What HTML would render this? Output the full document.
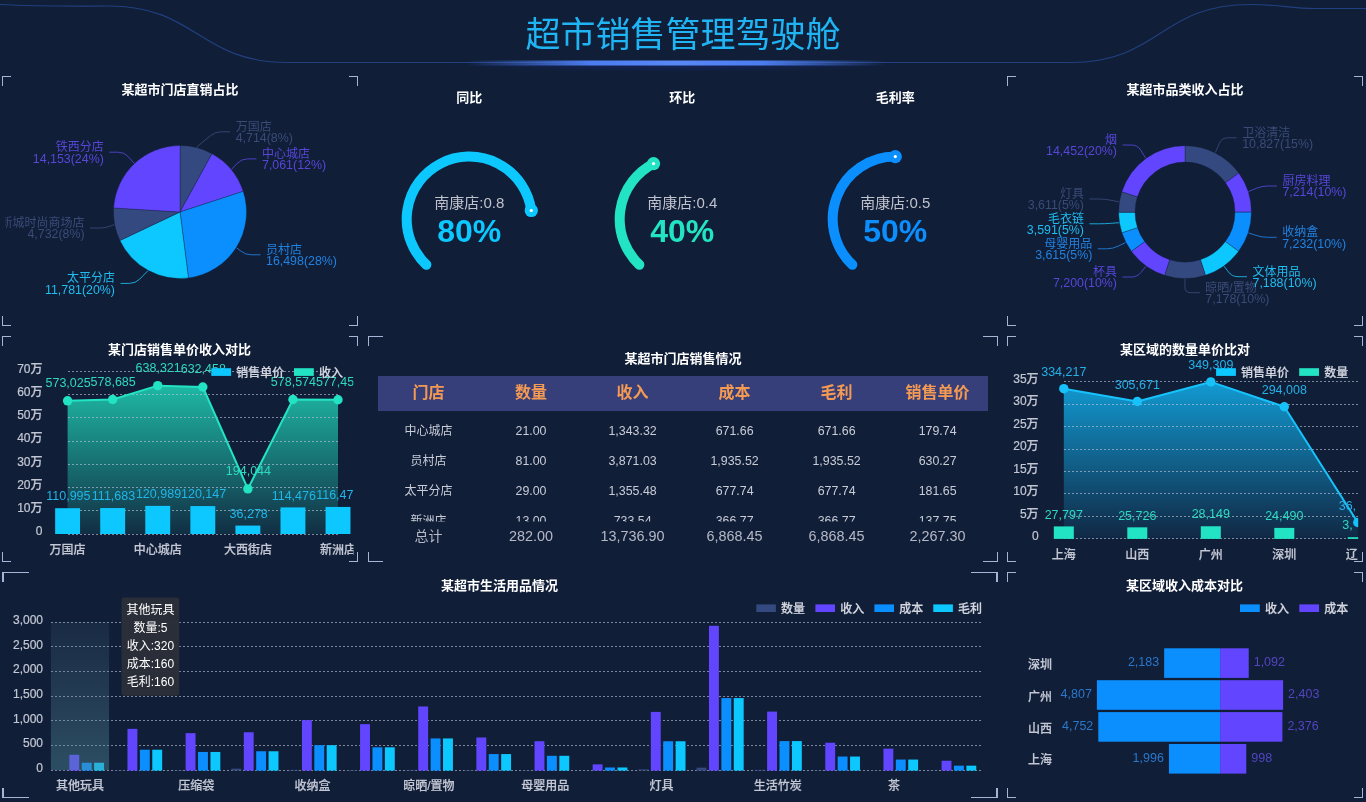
<!DOCTYPE html>
<html lang="zh-CN"><head><meta charset="utf-8"><title>超市销售管理驾驶舱</title><style>html,body{margin:0;padding:0;background:#101e38;overflow:hidden}svg{display:block}</style></head><body>
<svg width="1366" height="802" viewBox="0 0 1366 802" font-family='"Liberation Sans","Noto Sans CJK SC",sans-serif'>
<rect width="1366" height="802" fill="#101e38"/>
<defs><linearGradient id="hg" x1="0" x2="1" y1="0" y2="0"><stop offset="0" stop-color="#4a7df0" stop-opacity="0"/><stop offset="0.3" stop-color="#4c7df0" stop-opacity="1"/><stop offset="0.5" stop-color="#5888f6" stop-opacity="1"/><stop offset="0.7" stop-color="#4c7df0" stop-opacity="1"/><stop offset="1" stop-color="#4a7df0" stop-opacity="0"/></linearGradient><radialGradient id="hg2" cx="0.5" cy="0" r="0.5" gradientTransform="matrix(1 0 0 2 0 0)"><stop offset="0" stop-color="#1a2a8a" stop-opacity="0.9"/><stop offset="1" stop-color="#1a2a8a" stop-opacity="0"/></radialGradient></defs>
<path d="M0 4.5 C40 6.5 70 6 108 6 C198 6 198 62.5 288 62.5 L1070 62.5 C1160 62.5 1160 4.5 1250 4.5 C1280 4.5 1290 8.5 1315 8.5 L1366 8.5" fill="none" stroke="#22407f" stroke-width="1.2"/>
<rect x="440" y="64" width="470" height="8" fill="url(#hg2)" opacity="0.55"/>
<rect x="466" y="60.5" width="420" height="5" fill="url(#hg)"/>
<text x="683.0" y="46.5" font-size="35" fill="#1fb4f3" text-anchor="middle">超市销售管理驾驶舱</text>
<g fill="#aab3d6"><rect x="2" y="76" width="9" height="1"/><rect x="2" y="325" width="9" height="1"/><rect x="349" y="76" width="9" height="1"/><rect x="349" y="325" width="9" height="1"/><rect x="2" y="76" width="1" height="10"/><rect x="357" y="76" width="1" height="10"/><rect x="2" y="316" width="1" height="10"/><rect x="357" y="316" width="1" height="10"/></g>
<g fill="#aab3d6"><rect x="1007" y="76" width="9" height="1"/><rect x="1007" y="325" width="9" height="1"/><rect x="1354" y="76" width="9" height="1"/><rect x="1354" y="325" width="9" height="1"/><rect x="1007" y="76" width="1" height="10"/><rect x="1362" y="76" width="1" height="10"/><rect x="1007" y="316" width="1" height="10"/><rect x="1362" y="316" width="1" height="10"/></g>
<g fill="#aab3d6"><rect x="2" y="336" width="9" height="1"/><rect x="2" y="561" width="9" height="1"/><rect x="349" y="336" width="9" height="1"/><rect x="349" y="561" width="9" height="1"/><rect x="2" y="336" width="1" height="10"/><rect x="357" y="336" width="1" height="10"/><rect x="2" y="552" width="1" height="10"/><rect x="357" y="552" width="1" height="10"/></g>
<g fill="#aab3d6"><rect x="368" y="336" width="15" height="1"/><rect x="368" y="561" width="15" height="1"/><rect x="983" y="336" width="15" height="1"/><rect x="983" y="561" width="15" height="1"/><rect x="368" y="336" width="1" height="10"/><rect x="997" y="336" width="1" height="10"/><rect x="368" y="552" width="1" height="10"/><rect x="997" y="552" width="1" height="10"/></g>
<g fill="#aab3d6"><rect x="1007" y="336" width="9" height="1"/><rect x="1007" y="561" width="9" height="1"/><rect x="1354" y="336" width="9" height="1"/><rect x="1354" y="561" width="9" height="1"/><rect x="1007" y="336" width="1" height="10"/><rect x="1362" y="336" width="1" height="10"/><rect x="1007" y="552" width="1" height="10"/><rect x="1362" y="552" width="1" height="10"/></g>
<g fill="#aab3d6"><rect x="2" y="572" width="27" height="1"/><rect x="2" y="797" width="27" height="1"/><rect x="971" y="572" width="27" height="1"/><rect x="971" y="797" width="27" height="1"/><rect x="2" y="572" width="2" height="10"/><rect x="996" y="572" width="2" height="10"/><rect x="2" y="788" width="2" height="10"/><rect x="996" y="788" width="2" height="10"/></g>
<g fill="#aab3d6"><rect x="1007" y="572" width="9" height="1"/><rect x="1007" y="797" width="9" height="1"/><rect x="1354" y="572" width="9" height="1"/><rect x="1354" y="797" width="9" height="1"/><rect x="1007" y="572" width="1" height="10"/><rect x="1362" y="572" width="1" height="10"/><rect x="1007" y="788" width="1" height="10"/><rect x="1362" y="788" width="1" height="10"/></g>
<text x="180.0" y="94.1" font-size="13" fill="#ffffff" text-anchor="middle" font-weight="bold">某超市门店直销占比</text>
<defs><clipPath id="c1"><rect x="5.5" y="76" width="348" height="250"/></clipPath><clipPath id="c3"><rect x="1010" y="76" width="349" height="250"/></clipPath></defs>
<path d="M180 212 L180 145.5 A66.5 66.5 0 0 1 212.03 153.72 Z" fill="#34497f" stroke="#101e38" stroke-width="0.35"/>
<path d="M180 212 L212.03 153.72 A66.5 66.5 0 0 1 243.22 191.36 Z" fill="#6246ff" stroke="#101e38" stroke-width="0.35"/>
<path d="M180 212 L243.22 191.36 A66.5 66.5 0 0 1 188.46 277.96 Z" fill="#0b8fff" stroke="#101e38" stroke-width="0.35"/>
<path d="M180 212 L188.46 277.96 A66.5 66.5 0 0 1 119.9 240.47 Z" fill="#0dc8ff" stroke="#101e38" stroke-width="0.35"/>
<path d="M180 212 L119.9 240.47 A66.5 66.5 0 0 1 113.63 207.88 Z" fill="#34497f" stroke="#101e38" stroke-width="0.35"/>
<path d="M180 212 L113.63 207.88 A66.5 66.5 0 0 1 180 145.5 Z" fill="#6246ff" stroke="#101e38" stroke-width="0.35"/>
<g clip-path="url(#c1)">
<path d="M134.12 163.18 L128.3 156.67 Q124.3 152.2 118.3 152.2 L109.3 152.2" fill="none" stroke="#5746d8" stroke-width="1" stroke-opacity="0.85"/>
<text x="103.8" y="151.1" font-size="12" fill="#5746d8" text-anchor="end">铁西分店</text>
<text x="103.8" y="162.6" font-size="12.4" fill="#5746d8" text-anchor="end">14,153(24%)</text>
<path d="M114.21 224.67 L109.65 226.33 Q105.1 228 100.25 228 L90.1 228" fill="none" stroke="#3a4b78" stroke-width="1" stroke-opacity="0.85"/>
<text x="84.6" y="226.9" font-size="12" fill="#3a4b78" text-anchor="end">新城时尚商场店</text>
<text x="84.6" y="238.4" font-size="12.4" fill="#3a4b78" text-anchor="end">4,732(8%)</text>
<path d="M147.85 270.79 L139.7 279.11 Q135.5 283.4 129.5 283.4 L120.5 283.4" fill="none" stroke="#20bdf0" stroke-width="1" stroke-opacity="0.85"/>
<text x="115.0" y="282.3" font-size="12" fill="#20bdf0" text-anchor="end">太平分店</text>
<text x="115.0" y="293.8" font-size="12.4" fill="#20bdf0" text-anchor="end">11,781(20%)</text>
<path d="M236.63 247.81 L241.06 251.3 Q245.5 254.8 251.15 254.8 L260.5 254.8" fill="none" stroke="#2182e0" stroke-width="1" stroke-opacity="0.85"/>
<text x="266.0" y="253.7" font-size="12" fill="#2182e0">员村店</text>
<text x="266.0" y="265.2" font-size="12.4" fill="#2182e0">16,498(28%)</text>
<path d="M231.59 169.25 L237.35 163.24 Q241.5 158.9 247.5 158.9 L256.5 158.9" fill="none" stroke="#5746d8" stroke-width="1" stroke-opacity="0.85"/>
<text x="262.0" y="157.8" font-size="12" fill="#5746d8">中心城店</text>
<text x="262.0" y="169.3" font-size="12.4" fill="#5746d8">7,061(12%)</text>
<path d="M196.66 147.1 L210.57 135.62 Q215.2 131.8 221.2 131.8 L230.2 131.8" fill="none" stroke="#3a4b78" stroke-width="1" stroke-opacity="0.85"/>
<text x="235.7" y="130.7" font-size="12" fill="#3a4b78">万国店</text>
<text x="235.7" y="142.2" font-size="12.4" fill="#3a4b78">4,714(8%)</text>
</g>
<text x="469.3" y="102.2" font-size="13" fill="#ffffff" text-anchor="middle" font-weight="bold">同比</text>
<path d="M426.37 264.76 A62.6 62.6 0 1 1 531.29 210.51" fill="none" stroke="#0dc8ff" stroke-width="10" stroke-linecap="round"/>
<circle cx="531.29" cy="210.51" r="6.6" fill="#0dc8ff"/>
<circle cx="531.29" cy="210.51" r="1.6" fill="#ffffff"/>
<text x="469.3" y="208.0" font-size="15" fill="#bfc2cc" text-anchor="middle">南康店:0.8</text>
<text x="469.3" y="242.3" font-size="32" fill="#0dc8ff" text-anchor="middle" font-weight="bold">80%</text>
<text x="682.3" y="102.2" font-size="13" fill="#ffffff" text-anchor="middle" font-weight="bold">环比</text>
<path d="M639.37 264.76 A62.6 62.6 0 0 1 653.55 163.59" fill="none" stroke="#22e4c4" stroke-width="10" stroke-linecap="round"/>
<circle cx="653.55" cy="163.59" r="6.6" fill="#22e4c4"/>
<circle cx="653.55" cy="163.59" r="1.6" fill="#ffffff"/>
<text x="682.3" y="208.0" font-size="15" fill="#bfc2cc" text-anchor="middle">南康店:0.4</text>
<text x="682.3" y="242.3" font-size="32" fill="#22e4c4" text-anchor="middle" font-weight="bold">40%</text>
<text x="895.3" y="102.2" font-size="13" fill="#ffffff" text-anchor="middle" font-weight="bold">毛利率</text>
<path d="M852.37 264.76 A62.6 62.6 0 0 1 895.3 156.6" fill="none" stroke="#0b8fff" stroke-width="10" stroke-linecap="round"/>
<circle cx="895.3" cy="156.6" r="6.6" fill="#0b8fff"/>
<circle cx="895.3" cy="156.6" r="1.6" fill="#ffffff"/>
<text x="895.3" y="208.0" font-size="15" fill="#bfc2cc" text-anchor="middle">南康店:0.5</text>
<text x="895.3" y="242.3" font-size="32" fill="#0b8fff" text-anchor="middle" font-weight="bold">50%</text>
<text x="1185.0" y="94.1" font-size="13" fill="#ffffff" text-anchor="middle" font-weight="bold">某超市品类收入占比</text>
<path d="M1185 145.7 A66.4 66.4 0 0 1 1238.76 173.12 L1225.48 182.75 A50 50 0 0 0 1185 162.1 Z" fill="#34497f" stroke="#101e38" stroke-width="0.35"/>
<path d="M1238.76 173.12 A66.4 66.4 0 0 1 1251.4 212.18 L1235 212.16 A50 50 0 0 0 1225.48 182.75 Z" fill="#6246ff" stroke="#101e38" stroke-width="0.35"/>
<path d="M1251.4 212.18 A66.4 66.4 0 0 1 1238.6 251.29 L1225.36 241.61 A50 50 0 0 0 1235 212.16 Z" fill="#0b8fff" stroke="#101e38" stroke-width="0.35"/>
<path d="M1238.6 251.29 A66.4 66.4 0 0 1 1205.45 275.27 L1200.4 259.67 A50 50 0 0 0 1225.36 241.61 Z" fill="#0dc8ff" stroke="#101e38" stroke-width="0.35"/>
<path d="M1205.45 275.27 A66.4 66.4 0 0 1 1164.59 275.29 L1169.63 259.68 A50 50 0 0 0 1200.4 259.67 Z" fill="#34497f" stroke="#101e38" stroke-width="0.35"/>
<path d="M1164.59 275.29 A66.4 66.4 0 0 1 1131.39 251.27 L1144.63 241.6 A50 50 0 0 0 1169.63 259.68 Z" fill="#6246ff" stroke="#101e38" stroke-width="0.35"/>
<path d="M1131.39 251.27 A66.4 66.4 0 0 1 1121.89 232.74 L1137.48 227.64 A50 50 0 0 0 1144.63 241.6 Z" fill="#0b8fff" stroke="#101e38" stroke-width="0.35"/>
<path d="M1121.89 232.74 A66.4 66.4 0 0 1 1118.6 212.31 L1135 212.26 A50 50 0 0 0 1137.48 227.64 Z" fill="#0dc8ff" stroke="#101e38" stroke-width="0.35"/>
<path d="M1118.6 212.31 A66.4 66.4 0 0 1 1121.8 191.75 L1137.41 196.78 A50 50 0 0 0 1135 212.26 Z" fill="#34497f" stroke="#101e38" stroke-width="0.35"/>
<path d="M1121.8 191.75 A66.4 66.4 0 0 1 1185 145.7 L1185 162.1 A50 50 0 0 0 1137.41 196.78 Z" fill="#6246ff" stroke="#101e38" stroke-width="0.35"/>
<g clip-path="url(#c3)">
<path d="M1145.61 158.03 L1140.67 150.09 Q1137.5 145 1131.5 145 L1122.5 145" fill="none" stroke="#5746d8" stroke-width="1" stroke-opacity="0.85"/>
<text x="1117.0" y="143.9" font-size="12" fill="#5746d8" text-anchor="end">烟</text>
<text x="1117.0" y="155.4" font-size="12.4" fill="#5746d8" text-anchor="end">14,452(20%)</text>
<path d="M1118.89 201.83 L1110.39 200.16 Q1104.5 199 1098.5 199 L1089.5 199" fill="none" stroke="#3a4b78" stroke-width="1" stroke-opacity="0.85"/>
<text x="1084.0" y="197.9" font-size="12" fill="#3a4b78" text-anchor="end">灯具</text>
<text x="1084.0" y="209.4" font-size="12.4" fill="#3a4b78" text-anchor="end">3,611(5%)</text>
<path d="M1118.95 222.73 L1110.48 223.36 Q1104.5 223.8 1098.5 223.8 L1089.5 223.8" fill="none" stroke="#20bdf0" stroke-width="1" stroke-opacity="0.85"/>
<text x="1084.0" y="222.7" font-size="12" fill="#20bdf0" text-anchor="end">毛衣链</text>
<text x="1084.0" y="234.2" font-size="12.4" fill="#20bdf0" text-anchor="end">3,591(5%)</text>
<path d="M1125.46 242.61 L1118.19 246.16 Q1112.8 248.8 1106.8 248.8 L1097.8 248.8" fill="none" stroke="#2182e0" stroke-width="1" stroke-opacity="0.85"/>
<text x="1092.3" y="247.7" font-size="12" fill="#2182e0" text-anchor="end">母婴用品</text>
<text x="1092.3" y="259.2" font-size="12.4" fill="#2182e0" text-anchor="end">3,615(5%)</text>
<path d="M1145.8 266.31 L1141.18 272.26 Q1137.5 277 1131.5 277 L1122.5 277" fill="none" stroke="#5746d8" stroke-width="1" stroke-opacity="0.85"/>
<text x="1117.0" y="275.9" font-size="12" fill="#5746d8" text-anchor="end">杯具</text>
<text x="1117.0" y="287.4" font-size="12.4" fill="#5746d8" text-anchor="end">7,200(10%)</text>
<path d="M1185.02 279 L1184.9 286.7 Q1184.8 292.7 1190.8 292.7 L1199.8 292.7" fill="none" stroke="#3a4b78" stroke-width="1" stroke-opacity="0.85"/>
<text x="1205.3" y="291.6" font-size="12" fill="#3a4b78">晾晒/置物</text>
<text x="1205.3" y="303.1" font-size="12.4" fill="#3a4b78">7,178(10%)</text>
<path d="M1224.21 266.3 L1228.4 271.9 Q1232 276.7 1238 276.7 L1247 276.7" fill="none" stroke="#20bdf0" stroke-width="1" stroke-opacity="0.85"/>
<text x="1252.5" y="275.6" font-size="12" fill="#20bdf0">文体用品</text>
<text x="1252.5" y="287.1" font-size="12.4" fill="#20bdf0">7,188(10%)</text>
<path d="M1248.58 232.91 L1256.01 235.4 Q1261.7 237.3 1267.7 237.3 L1276.7 237.3" fill="none" stroke="#2182e0" stroke-width="1" stroke-opacity="0.85"/>
<text x="1282.2" y="236.2" font-size="12" fill="#2182e0">收纳盒</text>
<text x="1282.2" y="247.8" font-size="12.4" fill="#2182e0">7,232(10%)</text>
<path d="M1248.65 191.5 L1256.36 188.3 Q1261.9 186 1267.9 186 L1276.9 186" fill="none" stroke="#5746d8" stroke-width="1" stroke-opacity="0.85"/>
<text x="1282.4" y="184.9" font-size="12" fill="#5746d8">厨房料理</text>
<text x="1282.4" y="196.4" font-size="12.4" fill="#5746d8">7,214(10%)</text>
<path d="M1215.4 152.51 L1219.34 143.32 Q1221.7 137.8 1227.7 137.8 L1236.7 137.8" fill="none" stroke="#3a4b78" stroke-width="1" stroke-opacity="0.85"/>
<text x="1242.2" y="136.7" font-size="12" fill="#3a4b78">卫浴清洁</text>
<text x="1242.2" y="148.2" font-size="12.4" fill="#3a4b78">10,827(15%)</text>
</g>
<text x="179.6" y="354.1" font-size="13" fill="#ffffff" text-anchor="middle" font-weight="bold">某门店销售单价收入对比</text>
<defs><linearGradient id="ga" x1="0" x2="0" y1="0" y2="1"><stop offset="0" stop-color="#22e4c4" stop-opacity="0.78"/><stop offset="1" stop-color="#22e4c4" stop-opacity="0.08"/></linearGradient><clipPath id="c4"><rect x="0" y="336" width="353.5" height="226"/></clipPath></defs>
<g clip-path="url(#c4)">
<text x="42.5" y="535.4" font-size="12" fill="#c3c7d4" text-anchor="end" font-weight="500" stroke="#c3c7d4" stroke-width="0.2">0</text>
<text x="42.5" y="512.2" font-size="12" fill="#c3c7d4" text-anchor="end" font-weight="500" stroke="#c3c7d4" stroke-width="0.2">10万</text>
<text x="42.5" y="488.9" font-size="12" fill="#c3c7d4" text-anchor="end" font-weight="500" stroke="#c3c7d4" stroke-width="0.2">20万</text>
<text x="42.5" y="465.7" font-size="12" fill="#c3c7d4" text-anchor="end" font-weight="500" stroke="#c3c7d4" stroke-width="0.2">30万</text>
<text x="42.5" y="442.4" font-size="12" fill="#c3c7d4" text-anchor="end" font-weight="500" stroke="#c3c7d4" stroke-width="0.2">40万</text>
<text x="42.5" y="419.2" font-size="12" fill="#c3c7d4" text-anchor="end" font-weight="500" stroke="#c3c7d4" stroke-width="0.2">50万</text>
<text x="42.5" y="395.9" font-size="12" fill="#c3c7d4" text-anchor="end" font-weight="500" stroke="#c3c7d4" stroke-width="0.2">60万</text>
<text x="42.5" y="372.7" font-size="12" fill="#c3c7d4" text-anchor="end" font-weight="500" stroke="#c3c7d4" stroke-width="0.2">70万</text>
<polygon points="67.6,534 67.6,400.81 112.67,399.5 157.74,385.64 202.81,387 247.88,488.9 292.95,399.52 338.02,399.78 338.02,534" fill="url(#ga)"/>
<line x1="67.6" x2="338.02" y1="534.5" y2="534.5" stroke="#c0c7dc" stroke-width="1" stroke-dasharray="2 2" opacity="0.62" shape-rendering="crispEdges"/>
<line x1="67.6" x2="338.02" y1="510.5" y2="510.5" stroke="#c0c7dc" stroke-width="1" stroke-dasharray="2 2" opacity="0.62" shape-rendering="crispEdges"/>
<line x1="67.6" x2="338.02" y1="487.5" y2="487.5" stroke="#c0c7dc" stroke-width="1" stroke-dasharray="2 2" opacity="0.62" shape-rendering="crispEdges"/>
<line x1="67.6" x2="338.02" y1="464.5" y2="464.5" stroke="#c0c7dc" stroke-width="1" stroke-dasharray="2 2" opacity="0.62" shape-rendering="crispEdges"/>
<line x1="67.6" x2="338.02" y1="441.5" y2="441.5" stroke="#c0c7dc" stroke-width="1" stroke-dasharray="2 2" opacity="0.62" shape-rendering="crispEdges"/>
<line x1="67.6" x2="338.02" y1="417.5" y2="417.5" stroke="#c0c7dc" stroke-width="1" stroke-dasharray="2 2" opacity="0.62" shape-rendering="crispEdges"/>
<line x1="67.6" x2="338.02" y1="394.5" y2="394.5" stroke="#c0c7dc" stroke-width="1" stroke-dasharray="2 2" opacity="0.62" shape-rendering="crispEdges"/>
<line x1="67.6" x2="338.02" y1="371.5" y2="371.5" stroke="#c0c7dc" stroke-width="1" stroke-dasharray="2 2" opacity="0.62" shape-rendering="crispEdges"/>
<rect x="55.15" y="508.2" width="24.9" height="25.8" fill="#0dc8ff"/>
<rect x="100.22" y="508.04" width="24.9" height="25.96" fill="#0dc8ff"/>
<rect x="145.29" y="505.88" width="24.9" height="28.12" fill="#0dc8ff"/>
<rect x="190.36" y="506.07" width="24.9" height="27.93" fill="#0dc8ff"/>
<rect x="235.43" y="525.57" width="24.9" height="8.43" fill="#0dc8ff"/>
<rect x="280.5" y="507.39" width="24.9" height="26.61" fill="#0dc8ff"/>
<rect x="325.57" y="506.93" width="24.9" height="27.07" fill="#0dc8ff"/>
<polyline points="67.6,400.81 112.67,399.5 157.74,385.64 202.81,387 247.88,488.9 292.95,399.52 338.02,399.78" fill="none" stroke="#22e4c4" stroke-width="2" stroke-linejoin="round"/>
<circle cx="67.6" cy="400.81" r="4.7" fill="#22e4c4"/>
<circle cx="112.67" cy="399.5" r="4.7" fill="#22e4c4"/>
<circle cx="157.74" cy="385.64" r="4.7" fill="#22e4c4"/>
<circle cx="202.81" cy="387" r="4.7" fill="#22e4c4"/>
<circle cx="247.88" cy="488.9" r="4.7" fill="#22e4c4"/>
<circle cx="292.95" cy="399.52" r="4.7" fill="#22e4c4"/>
<circle cx="338.02" cy="399.78" r="4.7" fill="#22e4c4"/>
<text x="68.4" y="500.4" font-size="12.5" fill="#1fb6ea" text-anchor="middle">110,995</text>
<text x="113.5" y="500.2" font-size="12.5" fill="#1fb6ea" text-anchor="middle">111,683</text>
<text x="158.5" y="498.0" font-size="12.5" fill="#1fb6ea" text-anchor="middle">120,989</text>
<text x="203.6" y="498.2" font-size="12.5" fill="#1fb6ea" text-anchor="middle">120,147</text>
<text x="248.7" y="517.7" font-size="12.5" fill="#1fb6ea" text-anchor="middle">36,278</text>
<text x="293.8" y="499.5" font-size="12.5" fill="#1fb6ea" text-anchor="middle">114,476</text>
<text x="316.2" y="499.1" font-size="12.5" fill="#1fb6ea">116,47</text>
<text x="68.1" y="387.1" font-size="12.5" fill="#2fd9bf" text-anchor="middle">573,025</text>
<text x="113.2" y="385.7" font-size="12.5" fill="#2fd9bf" text-anchor="middle">578,685</text>
<text x="158.2" y="371.9" font-size="12.5" fill="#2fd9bf" text-anchor="middle">638,321</text>
<text x="203.3" y="373.2" font-size="12.5" fill="#2fd9bf" text-anchor="middle">632,458</text>
<text x="248.4" y="475.1" font-size="12.5" fill="#2fd9bf" text-anchor="middle">194,044</text>
<text x="293.4" y="385.8" font-size="12.5" fill="#2fd9bf" text-anchor="middle">578,574</text>
<text x="315.9" y="386.0" font-size="12.5" fill="#2fd9bf">577,45</text>
<text x="67.6" y="553.7" font-size="12" fill="#c3c7d4" text-anchor="middle" font-weight="500" stroke="#c3c7d4" stroke-width="0.2">万国店</text>
<text x="157.7" y="553.7" font-size="12" fill="#c3c7d4" text-anchor="middle" font-weight="500" stroke="#c3c7d4" stroke-width="0.2">中心城店</text>
<text x="247.9" y="553.7" font-size="12" fill="#c3c7d4" text-anchor="middle" font-weight="500" stroke="#c3c7d4" stroke-width="0.2">大西街店</text>
<text x="338.0" y="553.7" font-size="12" fill="#c3c7d4" text-anchor="middle" font-weight="500" stroke="#c3c7d4" stroke-width="0.2">新洲店</text>
<rect x="211.3" y="368.2" width="19.8" height="7.7" fill="#0dc8ff"/>
<text x="236.3" y="376.7" font-size="12" fill="#d4d7e0" font-weight="500" stroke="#d4d7e0" stroke-width="0.2">销售单价</text>
<rect x="294" y="368.2" width="19.8" height="7.7" fill="#22e4c4"/>
<text x="319.0" y="376.7" font-size="12" fill="#d4d7e0" font-weight="500" stroke="#d4d7e0" stroke-width="0.2">收入</text>
</g>
<text x="1185.0" y="354.1" font-size="13" fill="#ffffff" text-anchor="middle" font-weight="bold">某区域的数量单价比对</text>
<defs><linearGradient id="gb" x1="0" x2="0" y1="0" y2="1"><stop offset="0" stop-color="#12a8e3" stop-opacity="0.9"/><stop offset="1" stop-color="#12a8e3" stop-opacity="0.07"/></linearGradient><clipPath id="c6"><rect x="1007" y="336" width="351.2" height="226"/></clipPath></defs>
<g clip-path="url(#c6)">
<text x="1038.6" y="540.2" font-size="12" fill="#c3c7d4" text-anchor="end" font-weight="500" stroke="#c3c7d4" stroke-width="0.2">0</text>
<text x="1038.6" y="517.7" font-size="12" fill="#c3c7d4" text-anchor="end" font-weight="500" stroke="#c3c7d4" stroke-width="0.2">5万</text>
<text x="1038.6" y="495.3" font-size="12" fill="#c3c7d4" text-anchor="end" font-weight="500" stroke="#c3c7d4" stroke-width="0.2">10万</text>
<text x="1038.6" y="472.8" font-size="12" fill="#c3c7d4" text-anchor="end" font-weight="500" stroke="#c3c7d4" stroke-width="0.2">15万</text>
<text x="1038.6" y="450.3" font-size="12" fill="#c3c7d4" text-anchor="end" font-weight="500" stroke="#c3c7d4" stroke-width="0.2">20万</text>
<text x="1038.6" y="427.8" font-size="12" fill="#c3c7d4" text-anchor="end" font-weight="500" stroke="#c3c7d4" stroke-width="0.2">25万</text>
<text x="1038.6" y="405.4" font-size="12" fill="#c3c7d4" text-anchor="end" font-weight="500" stroke="#c3c7d4" stroke-width="0.2">30万</text>
<text x="1038.6" y="382.9" font-size="12" fill="#c3c7d4" text-anchor="end" font-weight="500" stroke="#c3c7d4" stroke-width="0.2">35万</text>
<polygon points="1063.8,538.9 1063.8,388.69 1137.3,401.52 1210.8,381.91 1284.3,406.76 1357.8,522.5 1357.8,538.9" fill="url(#gb)"/>
<line x1="1063.8" x2="1359" y1="538.5" y2="538.5" stroke="#c0c7dc" stroke-width="1" stroke-dasharray="2 2" opacity="0.62" shape-rendering="crispEdges"/>
<line x1="1063.8" x2="1359" y1="516.5" y2="516.5" stroke="#c0c7dc" stroke-width="1" stroke-dasharray="2 2" opacity="0.62" shape-rendering="crispEdges"/>
<line x1="1063.8" x2="1359" y1="493.5" y2="493.5" stroke="#c0c7dc" stroke-width="1" stroke-dasharray="2 2" opacity="0.62" shape-rendering="crispEdges"/>
<line x1="1063.8" x2="1359" y1="471.5" y2="471.5" stroke="#c0c7dc" stroke-width="1" stroke-dasharray="2 2" opacity="0.62" shape-rendering="crispEdges"/>
<line x1="1063.8" x2="1359" y1="449.5" y2="449.5" stroke="#c0c7dc" stroke-width="1" stroke-dasharray="2 2" opacity="0.62" shape-rendering="crispEdges"/>
<line x1="1063.8" x2="1359" y1="426.5" y2="426.5" stroke="#c0c7dc" stroke-width="1" stroke-dasharray="2 2" opacity="0.62" shape-rendering="crispEdges"/>
<line x1="1063.8" x2="1359" y1="404.5" y2="404.5" stroke="#c0c7dc" stroke-width="1" stroke-dasharray="2 2" opacity="0.62" shape-rendering="crispEdges"/>
<line x1="1063.8" x2="1359" y1="381.5" y2="381.5" stroke="#c0c7dc" stroke-width="1" stroke-dasharray="2 2" opacity="0.62" shape-rendering="crispEdges"/>
<rect x="1053.8" y="526.41" width="20" height="12.49" fill="#22e4c4"/>
<rect x="1127.3" y="527.34" width="20" height="11.56" fill="#22e4c4"/>
<rect x="1200.8" y="526.25" width="20" height="12.65" fill="#22e4c4"/>
<rect x="1274.3" y="527.89" width="20" height="11.01" fill="#22e4c4"/>
<rect x="1347.8" y="537.19" width="20" height="1.71" fill="#22e4c4"/>
<polyline points="1063.8,388.69 1137.3,401.52 1210.8,381.91 1284.3,406.76 1357.8,522.5" fill="none" stroke="#17c2fb" stroke-width="2" stroke-linejoin="round"/>
<text x="1063.8" y="518.6" font-size="12.5" fill="#2fd9bf" text-anchor="middle">27,797</text>
<text x="1137.3" y="519.5" font-size="12.5" fill="#2fd9bf" text-anchor="middle">25,726</text>
<text x="1210.8" y="518.4" font-size="12.5" fill="#2fd9bf" text-anchor="middle">28,149</text>
<text x="1284.3" y="520.0" font-size="12.5" fill="#2fd9bf" text-anchor="middle">24,490</text>
<text x="1342.2" y="529.3" font-size="12.5" fill="#2fd9bf">3,</text>
<text x="1063.8" y="376.1" font-size="12.5" fill="#25b0e8" text-anchor="middle">334,217</text>
<text x="1137.3" y="389.0" font-size="12.5" fill="#25b0e8" text-anchor="middle">305,671</text>
<text x="1210.8" y="369.4" font-size="12.5" fill="#25b0e8" text-anchor="middle">349,309</text>
<text x="1284.3" y="394.2" font-size="12.5" fill="#25b0e8" text-anchor="middle">294,008</text>
<text x="1338.7" y="509.9" font-size="12.5" fill="#25b0e8">36,</text>
<circle cx="1063.8" cy="388.69" r="4.7" fill="#17c2fb"/>
<circle cx="1137.3" cy="401.52" r="4.7" fill="#17c2fb"/>
<circle cx="1210.8" cy="381.91" r="4.7" fill="#17c2fb"/>
<circle cx="1284.3" cy="406.76" r="4.7" fill="#17c2fb"/>
<circle cx="1357.8" cy="522.5" r="4.7" fill="#17c2fb"/>
<text x="1063.8" y="558.6" font-size="12" fill="#c3c7d4" text-anchor="middle" font-weight="500" stroke="#c3c7d4" stroke-width="0.2">上海</text>
<text x="1137.3" y="558.6" font-size="12" fill="#c3c7d4" text-anchor="middle" font-weight="500" stroke="#c3c7d4" stroke-width="0.2">山西</text>
<text x="1210.8" y="558.6" font-size="12" fill="#c3c7d4" text-anchor="middle" font-weight="500" stroke="#c3c7d4" stroke-width="0.2">广州</text>
<text x="1284.3" y="558.6" font-size="12" fill="#c3c7d4" text-anchor="middle" font-weight="500" stroke="#c3c7d4" stroke-width="0.2">深圳</text>
<text x="1345.8" y="558.6" font-size="12" fill="#c3c7d4" font-weight="500" stroke="#c3c7d4" stroke-width="0.2">辽</text>
<rect x="1216.1" y="368.2" width="19.8" height="7.7" fill="#0dc8ff"/>
<text x="1241.1" y="376.7" font-size="12" fill="#d4d7e0" font-weight="500" stroke="#d4d7e0" stroke-width="0.2">销售单价</text>
<rect x="1299.2" y="368.2" width="19.8" height="7.7" fill="#22e4c4"/>
<text x="1324.2" y="376.7" font-size="12" fill="#d4d7e0" font-weight="500" stroke="#d4d7e0" stroke-width="0.2">数量</text>
</g>
<text x="683.0" y="363.2" font-size="13" fill="#ffffff" text-anchor="middle" font-weight="bold">某超市门店销售情况</text>
<rect x="378" y="376" width="610" height="35" fill="#363f7a"/>
<text x="428.4" y="398.4" font-size="16" fill="#f59a52" text-anchor="middle" font-weight="bold">门店</text>
<text x="531.0" y="398.4" font-size="16" fill="#f59a52" text-anchor="middle" font-weight="bold">数量</text>
<text x="632.6" y="398.4" font-size="16" fill="#f59a52" text-anchor="middle" font-weight="bold">收入</text>
<text x="734.6" y="398.4" font-size="16" fill="#f59a52" text-anchor="middle" font-weight="bold">成本</text>
<text x="836.6" y="398.4" font-size="16" fill="#f59a52" text-anchor="middle" font-weight="bold">毛利</text>
<text x="937.6" y="398.4" font-size="16" fill="#f59a52" text-anchor="middle" font-weight="bold">销售单价</text>
<defs><clipPath id="c5"><rect x="378" y="411" width="610" height="110.5"/></clipPath></defs>
<g clip-path="url(#c5)">
<text x="428.4" y="434.9" font-size="12" fill="#c9ccd7" text-anchor="middle">中心城店</text>
<text x="531.0" y="434.9" font-size="12.4" fill="#c9ccd7" text-anchor="middle">21.00</text>
<text x="632.6" y="434.9" font-size="12.4" fill="#c9ccd7" text-anchor="middle">1,343.32</text>
<text x="734.6" y="434.9" font-size="12.4" fill="#c9ccd7" text-anchor="middle">671.66</text>
<text x="836.6" y="434.9" font-size="12.4" fill="#c9ccd7" text-anchor="middle">671.66</text>
<text x="937.6" y="434.9" font-size="12.4" fill="#c9ccd7" text-anchor="middle">179.74</text>
<text x="428.4" y="464.9" font-size="12" fill="#c9ccd7" text-anchor="middle">员村店</text>
<text x="531.0" y="464.9" font-size="12.4" fill="#c9ccd7" text-anchor="middle">81.00</text>
<text x="632.6" y="464.9" font-size="12.4" fill="#c9ccd7" text-anchor="middle">3,871.03</text>
<text x="734.6" y="464.9" font-size="12.4" fill="#c9ccd7" text-anchor="middle">1,935.52</text>
<text x="836.6" y="464.9" font-size="12.4" fill="#c9ccd7" text-anchor="middle">1,935.52</text>
<text x="937.6" y="464.9" font-size="12.4" fill="#c9ccd7" text-anchor="middle">630.27</text>
<text x="428.4" y="494.9" font-size="12" fill="#c9ccd7" text-anchor="middle">太平分店</text>
<text x="531.0" y="494.9" font-size="12.4" fill="#c9ccd7" text-anchor="middle">29.00</text>
<text x="632.6" y="494.9" font-size="12.4" fill="#c9ccd7" text-anchor="middle">1,355.48</text>
<text x="734.6" y="494.9" font-size="12.4" fill="#c9ccd7" text-anchor="middle">677.74</text>
<text x="836.6" y="494.9" font-size="12.4" fill="#c9ccd7" text-anchor="middle">677.74</text>
<text x="937.6" y="494.9" font-size="12.4" fill="#c9ccd7" text-anchor="middle">181.65</text>
<text x="428.4" y="524.9" font-size="12" fill="#c9ccd7" text-anchor="middle">新洲店</text>
<text x="531.0" y="524.9" font-size="12.4" fill="#c9ccd7" text-anchor="middle">13.00</text>
<text x="632.6" y="524.9" font-size="12.4" fill="#c9ccd7" text-anchor="middle">733.54</text>
<text x="734.6" y="524.9" font-size="12.4" fill="#c9ccd7" text-anchor="middle">366.77</text>
<text x="836.6" y="524.9" font-size="12.4" fill="#c9ccd7" text-anchor="middle">366.77</text>
<text x="937.6" y="524.9" font-size="12.4" fill="#c9ccd7" text-anchor="middle">137.75</text>
</g>
<text x="428.4" y="541.1" font-size="14" fill="#b5b9c6" text-anchor="middle">总计</text>
<text x="531.0" y="541.1" font-size="14.4" fill="#b5b9c6" text-anchor="middle">282.00</text>
<text x="632.6" y="541.1" font-size="14.4" fill="#b5b9c6" text-anchor="middle">13,736.90</text>
<text x="734.6" y="541.1" font-size="14.4" fill="#b5b9c6" text-anchor="middle">6,868.45</text>
<text x="836.6" y="541.1" font-size="14.4" fill="#b5b9c6" text-anchor="middle">6,868.45</text>
<text x="937.6" y="541.1" font-size="14.4" fill="#b5b9c6" text-anchor="middle">2,267.30</text>
<text x="499.5" y="590.1" font-size="13" fill="#ffffff" text-anchor="middle" font-weight="bold">某超市生活用品情况</text>
<text x="43.0" y="772.0" font-size="12" fill="#c3c7d4" text-anchor="end" font-weight="500" stroke="#c3c7d4" stroke-width="0.2">0</text>
<line x1="50.9" x2="981.3" y1="770.5" y2="770.5" stroke="#c0c7dc" stroke-width="1" stroke-dasharray="2 2" opacity="0.62" shape-rendering="crispEdges"/>
<text x="43.0" y="747.3" font-size="12" fill="#c3c7d4" text-anchor="end" font-weight="500" stroke="#c3c7d4" stroke-width="0.2">500</text>
<line x1="50.9" x2="981.3" y1="745.5" y2="745.5" stroke="#c0c7dc" stroke-width="1" stroke-dasharray="2 2" opacity="0.62" shape-rendering="crispEdges"/>
<text x="43.0" y="722.7" font-size="12" fill="#c3c7d4" text-anchor="end" font-weight="500" stroke="#c3c7d4" stroke-width="0.2">1,000</text>
<line x1="50.9" x2="981.3" y1="720.5" y2="720.5" stroke="#c0c7dc" stroke-width="1" stroke-dasharray="2 2" opacity="0.62" shape-rendering="crispEdges"/>
<text x="43.0" y="698.0" font-size="12" fill="#c3c7d4" text-anchor="end" font-weight="500" stroke="#c3c7d4" stroke-width="0.2">1,500</text>
<line x1="50.9" x2="981.3" y1="696.5" y2="696.5" stroke="#c0c7dc" stroke-width="1" stroke-dasharray="2 2" opacity="0.62" shape-rendering="crispEdges"/>
<text x="43.0" y="673.3" font-size="12" fill="#c3c7d4" text-anchor="end" font-weight="500" stroke="#c3c7d4" stroke-width="0.2">2,000</text>
<line x1="50.9" x2="981.3" y1="671.5" y2="671.5" stroke="#c0c7dc" stroke-width="1" stroke-dasharray="2 2" opacity="0.62" shape-rendering="crispEdges"/>
<text x="43.0" y="648.7" font-size="12" fill="#c3c7d4" text-anchor="end" font-weight="500" stroke="#c3c7d4" stroke-width="0.2">2,500</text>
<line x1="50.9" x2="981.3" y1="646.5" y2="646.5" stroke="#c0c7dc" stroke-width="1" stroke-dasharray="2 2" opacity="0.62" shape-rendering="crispEdges"/>
<text x="43.0" y="624.0" font-size="12" fill="#c3c7d4" text-anchor="end" font-weight="500" stroke="#c3c7d4" stroke-width="0.2">3,000</text>
<line x1="50.9" x2="981.3" y1="622.5" y2="622.5" stroke="#c0c7dc" stroke-width="1" stroke-dasharray="2 2" opacity="0.62" shape-rendering="crispEdges"/>
<rect x="56.92" y="770.35" width="9.9" height="0.25" fill="#34497f"/>
<rect x="69.33" y="754.81" width="9.9" height="15.79" fill="#6246ff"/>
<rect x="81.72" y="762.71" width="9.9" height="7.89" fill="#0b8fff"/>
<rect x="94.12" y="762.71" width="9.9" height="7.89" fill="#0dc8ff"/>
<rect x="115.07" y="770.21" width="9.9" height="0.39" fill="#34497f"/>
<rect x="127.47" y="728.86" width="9.9" height="41.74" fill="#6246ff"/>
<rect x="139.88" y="749.73" width="9.9" height="20.87" fill="#0b8fff"/>
<rect x="152.27" y="749.73" width="9.9" height="20.87" fill="#0dc8ff"/>
<rect x="173.22" y="770.21" width="9.9" height="0.39" fill="#34497f"/>
<rect x="185.62" y="733.16" width="9.9" height="37.44" fill="#6246ff"/>
<rect x="198.03" y="751.95" width="9.9" height="18.65" fill="#0b8fff"/>
<rect x="210.43" y="751.95" width="9.9" height="18.65" fill="#0dc8ff"/>
<rect x="231.38" y="768.63" width="9.9" height="1.97" fill="#34497f"/>
<rect x="243.78" y="732.27" width="9.9" height="38.33" fill="#6246ff"/>
<rect x="256.18" y="751.26" width="9.9" height="19.34" fill="#0b8fff"/>
<rect x="268.57" y="751.26" width="9.9" height="19.34" fill="#0dc8ff"/>
<rect x="289.52" y="769.86" width="9.9" height="0.74" fill="#34497f"/>
<rect x="301.92" y="720.13" width="9.9" height="50.47" fill="#6246ff"/>
<rect x="314.32" y="745.19" width="9.9" height="25.41" fill="#0b8fff"/>
<rect x="326.72" y="745.19" width="9.9" height="25.41" fill="#0dc8ff"/>
<rect x="347.67" y="770.01" width="9.9" height="0.59" fill="#34497f"/>
<rect x="360.07" y="724.18" width="9.9" height="46.42" fill="#6246ff"/>
<rect x="372.47" y="747.31" width="9.9" height="23.29" fill="#0b8fff"/>
<rect x="384.87" y="747.31" width="9.9" height="23.29" fill="#0dc8ff"/>
<rect x="405.82" y="769.91" width="9.9" height="0.69" fill="#34497f"/>
<rect x="418.22" y="706.47" width="9.9" height="64.13" fill="#6246ff"/>
<rect x="430.62" y="738.43" width="9.9" height="32.17" fill="#0b8fff"/>
<rect x="443.02" y="738.43" width="9.9" height="32.17" fill="#0dc8ff"/>
<rect x="463.97" y="770.11" width="9.9" height="0.49" fill="#34497f"/>
<rect x="476.37" y="737.5" width="9.9" height="33.1" fill="#6246ff"/>
<rect x="488.77" y="754.07" width="9.9" height="16.53" fill="#0b8fff"/>
<rect x="501.17" y="754.07" width="9.9" height="16.53" fill="#0dc8ff"/>
<rect x="522.12" y="770.21" width="9.9" height="0.39" fill="#34497f"/>
<rect x="534.52" y="741.2" width="9.9" height="29.4" fill="#6246ff"/>
<rect x="546.92" y="755.8" width="9.9" height="14.8" fill="#0b8fff"/>
<rect x="559.33" y="755.8" width="9.9" height="14.8" fill="#0dc8ff"/>
<rect x="580.27" y="770.4" width="9.9" height="0.2" fill="#34497f"/>
<rect x="592.67" y="764.38" width="9.9" height="6.22" fill="#6246ff"/>
<rect x="605.07" y="767.49" width="9.9" height="3.11" fill="#0b8fff"/>
<rect x="617.48" y="767.49" width="9.9" height="3.11" fill="#0dc8ff"/>
<rect x="638.42" y="769.37" width="9.9" height="1.23" fill="#34497f"/>
<rect x="650.82" y="711.89" width="9.9" height="58.71" fill="#6246ff"/>
<rect x="663.22" y="741.25" width="9.9" height="29.35" fill="#0b8fff"/>
<rect x="675.62" y="741.25" width="9.9" height="29.35" fill="#0dc8ff"/>
<rect x="696.57" y="767.64" width="9.9" height="2.96" fill="#34497f"/>
<rect x="708.97" y="625.81" width="9.9" height="144.79" fill="#6246ff"/>
<rect x="721.37" y="698.08" width="9.9" height="72.52" fill="#0b8fff"/>
<rect x="733.77" y="698.08" width="9.9" height="72.52" fill="#0dc8ff"/>
<rect x="754.72" y="769.86" width="9.9" height="0.74" fill="#34497f"/>
<rect x="767.12" y="711.6" width="9.9" height="59" fill="#6246ff"/>
<rect x="779.52" y="741.1" width="9.9" height="29.5" fill="#0b8fff"/>
<rect x="791.92" y="741.1" width="9.9" height="29.5" fill="#0dc8ff"/>
<rect x="812.87" y="770.21" width="9.9" height="0.39" fill="#34497f"/>
<rect x="825.27" y="742.73" width="9.9" height="27.87" fill="#6246ff"/>
<rect x="837.67" y="756.54" width="9.9" height="14.06" fill="#0b8fff"/>
<rect x="850.07" y="756.54" width="9.9" height="14.06" fill="#0dc8ff"/>
<rect x="871.02" y="770.3" width="9.9" height="0.3" fill="#34497f"/>
<rect x="883.42" y="748.65" width="9.9" height="21.95" fill="#6246ff"/>
<rect x="895.82" y="759.55" width="9.9" height="11.05" fill="#0b8fff"/>
<rect x="908.23" y="759.55" width="9.9" height="11.05" fill="#0dc8ff"/>
<rect x="929.17" y="770.4" width="9.9" height="0.2" fill="#34497f"/>
<rect x="941.57" y="760.73" width="9.9" height="9.87" fill="#6246ff"/>
<rect x="953.97" y="765.67" width="9.9" height="4.93" fill="#0b8fff"/>
<rect x="966.38" y="765.67" width="9.9" height="4.93" fill="#0dc8ff"/>
<defs><linearGradient id="hb" x1="0" x2="0" y1="0" y2="1"><stop offset="0" stop-color="#5a8898" stop-opacity="0.12"/><stop offset="1" stop-color="#52909f" stop-opacity="0.42"/></linearGradient></defs>
<rect x="50.9" y="622" width="58.15" height="148" fill="url(#hb)"/>
<text x="80.0" y="789.8" font-size="12" fill="#c3c7d4" text-anchor="middle" font-weight="500" stroke="#c3c7d4" stroke-width="0.2">其他玩具</text>
<text x="196.3" y="789.8" font-size="12" fill="#c3c7d4" text-anchor="middle" font-weight="500" stroke="#c3c7d4" stroke-width="0.2">压缩袋</text>
<text x="312.6" y="789.8" font-size="12" fill="#c3c7d4" text-anchor="middle" font-weight="500" stroke="#c3c7d4" stroke-width="0.2">收纳盒</text>
<text x="428.9" y="789.8" font-size="12" fill="#c3c7d4" text-anchor="middle" font-weight="500" stroke="#c3c7d4" stroke-width="0.2">晾晒/置物</text>
<text x="545.2" y="789.8" font-size="12" fill="#c3c7d4" text-anchor="middle" font-weight="500" stroke="#c3c7d4" stroke-width="0.2">母婴用品</text>
<text x="661.5" y="789.8" font-size="12" fill="#c3c7d4" text-anchor="middle" font-weight="500" stroke="#c3c7d4" stroke-width="0.2">灯具</text>
<text x="777.8" y="789.8" font-size="12" fill="#c3c7d4" text-anchor="middle" font-weight="500" stroke="#c3c7d4" stroke-width="0.2">生活竹炭</text>
<text x="894.1" y="789.8" font-size="12" fill="#c3c7d4" text-anchor="middle" font-weight="500" stroke="#c3c7d4" stroke-width="0.2">茶</text>
<rect x="756.3" y="604.4" width="19.6" height="7.6" fill="#34497f"/>
<text x="781.1" y="613.0" font-size="12" fill="#d4d7e0" font-weight="500" stroke="#d4d7e0" stroke-width="0.2">数量</text>
<rect x="815.4" y="604.4" width="19.6" height="7.6" fill="#6246ff"/>
<text x="840.2" y="613.0" font-size="12" fill="#d4d7e0" font-weight="500" stroke="#d4d7e0" stroke-width="0.2">收入</text>
<rect x="874.4" y="604.4" width="19.6" height="7.6" fill="#0b8fff"/>
<text x="899.2" y="613.0" font-size="12" fill="#d4d7e0" font-weight="500" stroke="#d4d7e0" stroke-width="0.2">成本</text>
<rect x="933.3" y="604.4" width="19.6" height="7.6" fill="#0dc8ff"/>
<text x="958.1" y="613.0" font-size="12" fill="#d4d7e0" font-weight="500" stroke="#d4d7e0" stroke-width="0.2">毛利</text>
<rect x="121.5" y="597.5" width="57.8" height="98.3" rx="3" fill="#2c2f38" fill-opacity="0.96"/>
<text x="150.4" y="614.0" font-size="12" fill="#ffffff" text-anchor="middle">其他玩具</text>
<text x="150.4" y="632.1" font-size="12" fill="#ffffff" text-anchor="middle">数量:5</text>
<text x="150.4" y="650.2" font-size="12" fill="#ffffff" text-anchor="middle">收入:320</text>
<text x="150.4" y="668.3" font-size="12" fill="#ffffff" text-anchor="middle">成本:160</text>
<text x="150.4" y="686.4" font-size="12" fill="#ffffff" text-anchor="middle">毛利:160</text>
<text x="1184.6" y="590.1" font-size="13" fill="#ffffff" text-anchor="middle" font-weight="bold">某区域收入成本对比</text>
<rect x="1240" y="604.4" width="19.8" height="7.6" fill="#0b8fff"/>
<text x="1265.0" y="613.0" font-size="12" fill="#d4d7e0" font-weight="500" stroke="#d4d7e0" stroke-width="0.2">收入</text>
<rect x="1299.3" y="604.4" width="19.8" height="7.6" fill="#6246ff"/>
<text x="1324.3" y="613.0" font-size="12" fill="#d4d7e0" font-weight="500" stroke="#d4d7e0" stroke-width="0.2">成本</text>
<rect x="1164.15" y="648.3" width="55.95" height="29.6" fill="#0b8fff"/>
<rect x="1220.1" y="648.3" width="28.63" height="29.6" fill="#6246ff"/>
<text x="1028.0" y="668.7" font-size="12" fill="#c3c7d4" font-weight="500" stroke="#c3c7d4" stroke-width="0.2">深圳</text>
<text x="1159.2" y="666.4" font-size="12.5" fill="#2a78cc" text-anchor="end">2,183</text>
<text x="1253.7" y="666.4" font-size="12.5" fill="#5345c0">1,092</text>
<rect x="1096.9" y="680.2" width="123.2" height="29.6" fill="#0b8fff"/>
<rect x="1220.1" y="680.2" width="63" height="29.6" fill="#6246ff"/>
<text x="1028.0" y="700.6" font-size="12" fill="#c3c7d4" font-weight="500" stroke="#c3c7d4" stroke-width="0.2">广州</text>
<text x="1091.9" y="698.2" font-size="12.5" fill="#2a78cc" text-anchor="end">4,807</text>
<text x="1288.1" y="698.2" font-size="12.5" fill="#5345c0">2,403</text>
<rect x="1098.31" y="712.1" width="121.79" height="29.6" fill="#0b8fff"/>
<rect x="1220.1" y="712.1" width="62.29" height="29.6" fill="#6246ff"/>
<text x="1028.0" y="732.5" font-size="12" fill="#c3c7d4" font-weight="500" stroke="#c3c7d4" stroke-width="0.2">山西</text>
<text x="1093.3" y="730.1" font-size="12.5" fill="#2a78cc" text-anchor="end">4,752</text>
<text x="1287.4" y="730.1" font-size="12.5" fill="#5345c0">2,376</text>
<rect x="1168.94" y="744" width="51.16" height="29.6" fill="#0b8fff"/>
<rect x="1220.1" y="744" width="26.16" height="29.6" fill="#6246ff"/>
<text x="1028.0" y="764.4" font-size="12" fill="#c3c7d4" font-weight="500" stroke="#c3c7d4" stroke-width="0.2">上海</text>
<text x="1163.9" y="762.1" font-size="12.5" fill="#2a78cc" text-anchor="end">1,996</text>
<text x="1251.3" y="762.1" font-size="12.5" fill="#5345c0">998</text>
</svg>
</body></html>
